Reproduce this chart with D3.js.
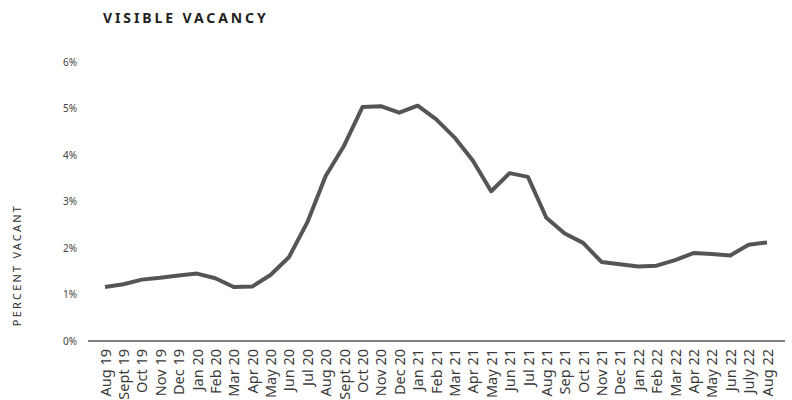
<!DOCTYPE html>
<html>
<head>
<meta charset="utf-8">
<script src="https://cdn.jsdelivr.net/npm/d3@7"></script>
<style>
  body { margin: 0; background: #fff; }
  text { font-family: "Noto Sans", sans-serif; }
</style>
</head>
<body>
<div id="chart"></div>
<script>
// Données du graphique.
const months = [
  "Aug 19", "Sept 19", "Oct 19", "Nov 19", "Dec 19", "Jan 20", "Feb 20",
  "Mar 20", "Apr 20", "May 20", "Jun 20", "Jul 20", "Aug 20", "Sept 20",
  "Oct 20", "Nov 20", "Dec 20", "Jan 21", "Feb 21", "Mar 21", "Apr 21",
  "May 21", "Jun 21", "Jul 21", "Aug 21", "Sep 21", "Oct 21", "Nov 21",
  "Dec 21", "Jan 22", "Feb 22", "Mar 22", "Apr 22", "May 22", "Jun 22",
  "July 22", "Aug 22",
];
const vacancy = [
  1.16, 1.22, 1.32, 1.36, 1.41, 1.45, 1.35, 1.16, 1.17, 1.42, 1.80, 2.55,
  3.55, 4.20, 5.03, 5.05, 4.91, 5.06, 4.77, 4.38, 3.88, 3.22, 3.61, 3.53,
  2.65, 2.31, 2.11, 1.70, 1.65, 1.60, 1.62, 1.74, 1.89, 1.87, 1.84, 2.07,
  2.12,
];
const yTicks = [0, 1, 2, 3, 4, 5, 6];

const width = 792;
const height = 400;

const svg = d3
  .select("#chart")
  .append("svg")
  .attr("width", width)
  .attr("height", height);

// Échelles
const x = d3.scalePoint().domain(months).range([105, 767]);
const y = d3.scaleLinear().domain([0, 6]).range([341, 62]);

// Titre
svg
  .append("text")
  .attr("x", 103)
  .attr("y", 23)
  .attr("fill", "#222")
  .style("font-size", "14px")
  .style("font-weight", "bold")
  .style("letter-spacing", "2.9px")
  .text("VISIBLE VACANCY");

// Titre de l'axe y
svg
  .append("text")
  .attr("transform", "translate(21,265) rotate(-90)")
  .attr("text-anchor", "middle")
  .attr("fill", "#333")
  .style("font-size", "11px")
  .style("letter-spacing", "2.2px")
  .text("PERCENT VACANT");

// Étiquettes de l'axe y
svg
  .append("g")
  .selectAll("text")
  .data(yTicks)
  .join("text")
  .attr("x", 77)
  .attr("y", (d) => y(d))
  .attr("dy", "0.35em")
  .attr("text-anchor", "end")
  .attr("fill", "#444")
  .style("font-size", "10px")
  .text((d) => d + "%");

// Axe x
const xAxis = svg
  .append("g")
  .attr("transform", `translate(0,${y(0)})`)
  .call(d3.axisBottom(x).tickSize(0).tickPadding(8));
xAxis.select(".domain").remove();
xAxis
  .selectAll("text")
  .attr("transform", "rotate(-90)")
  .attr("text-anchor", "end")
  .attr("x", -8)
  .attr("y", 0)
  .attr("dy", "0.35em")
  .attr("fill", "#3a3a3a")
  .style("font-family", "'Noto Sans', sans-serif")
  .style("font-size", "14.5px");

svg
  .append("line")
  .attr("x1", 88)
  .attr("x2", 785)
  .attr("y1", y(0))
  .attr("y2", y(0))
  .attr("stroke", "#555")
  .attr("stroke-width", 1.5);

// Courbe
const line = d3
  .line()
  .x((d, i) => x(months[i]))
  .y((d) => y(d));

svg
  .append("path")
  .datum(vacancy)
  .attr("fill", "none")
  .attr("stroke", "#555")
  .attr("stroke-width", 4)
  .attr("stroke-linejoin", "round")
  .attr("d", line);
</script>
</body>
</html>
